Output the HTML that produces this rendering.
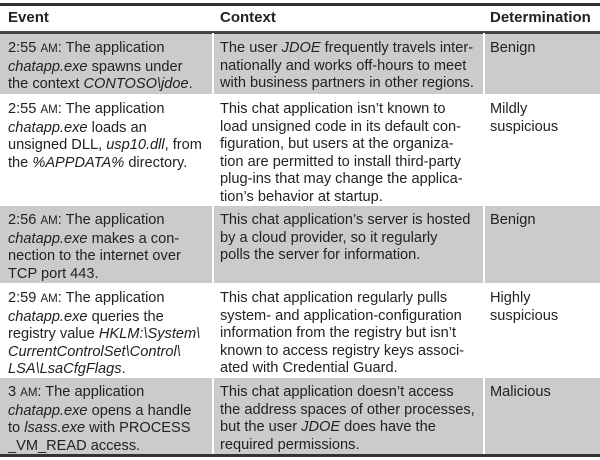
<!DOCTYPE html>
<html><head><meta charset="utf-8"><style>
*{margin:0;padding:0;box-sizing:border-box}
body{width:600px;height:460px;background:#fff;position:relative;overflow:hidden;font-family:"Liberation Sans",sans-serif;color:#222}
.r{position:absolute;left:0;width:600px}
.g{background:#cbcbcb}
.c{position:absolute;font-size:14.6px;line-height:17.6px;white-space:nowrap}
.v{position:absolute;top:33px;width:2px;height:421px;background:#fff}
.h{font-weight:bold;font-size:15px}
.sc{font-size:11.5px}
</style></head><body>
<div class="r" style="top:3px;height:3px;background:#333"></div>
<div class="r" style="top:31px;height:3px;background:#444"></div>
<div class="r g" style="top:34px;height:60px"></div>
<div class="r g" style="top:206px;height:77px"></div>
<div class="r g" style="top:378px;height:76px"></div>
<div class="r" style="top:454px;height:3px;background:#333"></div>
<div class="v" style="left:212px"></div>
<div class="v" style="left:483px"></div>
<div class="c h" style="left:8px;top:9px">Event</div>
<div class="c h" style="left:220px;top:9px">Context</div>
<div class="c h" style="left:490px;top:9px">Determination</div>

<div class="c" style="left:8px;top:40px">2:55 <span class="sc">AM</span>: The application<br><i>chatapp.exe</i> spawns under<br>the context <i>CONTOSO\jdoe</i>.</div>
<div class="c" style="left:220px;top:40px">The user <i>JDOE</i> frequently travels inter-<br>nationally and works off-hours to meet<br>with business partners in other regions.</div>
<div class="c" style="left:490px;top:40px">Benign</div>

<div class="c" style="left:8px;top:101px">2:55 <span class="sc">AM</span>: The application<br><i>chatapp.exe</i> loads an<br>unsigned DLL, <i>usp10.dll</i>, from<br>the <i>%APPDATA%</i> directory.</div>
<div class="c" style="left:220px;top:101px">This chat application isn’t known to<br>load unsigned code in its default con-<br>figuration, but users at the organiza-<br>tion are permitted to install third-party<br>plug-ins that may change the applica-<br>tion’s behavior at startup.</div>
<div class="c" style="left:490px;top:101px">Mildly<br>suspicious</div>

<div class="c" style="left:8px;top:212px">2:56 <span class="sc">AM</span>: The application<br><i>chatapp.exe</i> makes a con-<br>nection to the internet over<br>TCP port 443.</div>
<div class="c" style="left:220px;top:212px">This chat application’s server is hosted<br>by a cloud provider, so it regularly<br>polls the server for information.</div>
<div class="c" style="left:490px;top:212px">Benign</div>

<div class="c" style="left:8px;top:290px">2:59 <span class="sc">AM</span>: The application<br><i>chatapp.exe</i> queries the<br>registry value <i>HKLM:\System\</i><br><i>CurrentControlSet\Control\</i><br><i>LSA\LsaCfgFlags</i>.</div>
<div class="c" style="left:220px;top:290px">This chat application regularly pulls<br>system- and application-configuration<br>information from the registry but isn’t<br>known to access registry keys associ-<br>ated with Credential Guard.</div>
<div class="c" style="left:490px;top:290px">Highly<br>suspicious</div>

<div class="c" style="left:8px;top:384px">3 <span class="sc">AM</span>: The application<br><i>chatapp.exe</i> opens a handle<br>to <i>lsass.exe</i> with PROCESS<br>_VM_READ access.</div>
<div class="c" style="left:220px;top:384px">This chat application doesn’t access<br>the address spaces of other processes,<br>but the user <i>JDOE</i> does have the<br>required permissions.</div>
<div class="c" style="left:490px;top:384px">Malicious</div>
</body></html>
